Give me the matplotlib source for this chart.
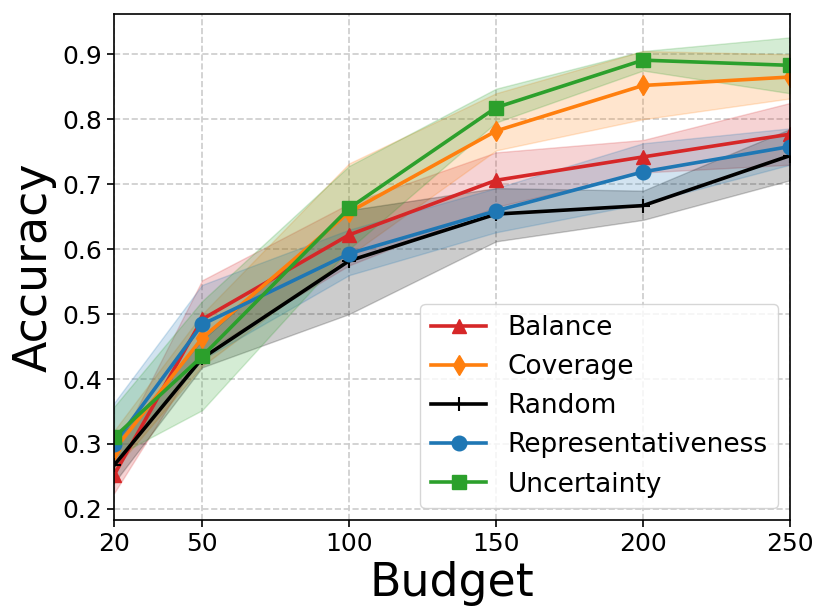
import numpy as np
import matplotlib.pyplot as plt

budget = [20, 50, 100, 150, 200, 250]

balance    = [0.252, 0.492, 0.622, 0.706, 0.742, 0.777]
balance_lo = [0.224, 0.440, 0.575, 0.665, 0.718, 0.730]
balance_hi = [0.285, 0.552, 0.670, 0.749, 0.768, 0.825]

coverage    = [0.290, 0.463, 0.657, 0.782, 0.852, 0.865]
coverage_lo = [0.260, 0.420, 0.590, 0.752, 0.800, 0.832]
coverage_hi = [0.320, 0.500, 0.732, 0.840, 0.905, 0.900]

random    = [0.267, 0.432, 0.582, 0.654, 0.667, 0.744]
random_lo = [0.240, 0.418, 0.500, 0.612, 0.645, 0.706]
random_hi = [0.300, 0.460, 0.660, 0.694, 0.690, 0.785]

represent    = [0.300, 0.484, 0.593, 0.659, 0.719, 0.758]
represent_lo = [0.270, 0.430, 0.560, 0.626, 0.670, 0.730]
represent_hi = [0.363, 0.545, 0.630, 0.694, 0.763, 0.786]

uncert    = [0.310, 0.435, 0.663, 0.818, 0.891, 0.883]
uncert_lo = [0.280, 0.352, 0.600, 0.795, 0.875, 0.840]
uncert_hi = [0.357, 0.520, 0.728, 0.847, 0.905, 0.926]

series = [
    ('Balance', balance, balance_lo, balance_hi, 'tab:red', '^'),
    ('Coverage', coverage, coverage_lo, coverage_hi, 'tab:orange', 'd'),
    ('Random', random, random_lo, random_hi, 'black', '+'),
    ('Representativeness', represent, represent_lo, represent_hi, 'tab:blue', 'o'),
    ('Uncertainty', uncert, uncert_lo, uncert_hi, 'tab:green', 's'),
]

fig = plt.figure(figsize=(8.3, 6.15), dpi=100)
ax = fig.add_axes([0.1373, 0.1545, 0.8145, 0.8227])

for name, y, lo, hi, c, m in series:
    ax.fill_between(budget, lo, hi, color=c, alpha=0.2)
    ax.plot(budget, y, color=c, marker=m, lw=2.6, ms=10.5, mew=1.5 if m == '+' else 1, label=name)

ax.set_xlim(20, 250)
ax.set_ylim(0.183, 0.962)
ax.set_xticks(budget)
ax.set_yticks([0.2, 0.3, 0.4, 0.5, 0.6, 0.7, 0.8, 0.9])
ax.tick_params(labelsize=18, length=5, width=1.2)
ax.grid(True, ls='--', color='#cccccc', lw=1.2)
ax.set_axisbelow(True)
for s in ax.spines.values():
    s.set_linewidth(1.2)

ax.set_xlabel('Budget', fontsize=33)
ax.set_ylabel('Accuracy', fontsize=33)

ax.legend(loc='lower right', fontsize=19, handlelength=2.1, borderaxespad=0.45)

fig.savefig('out.png', dpi=100)
